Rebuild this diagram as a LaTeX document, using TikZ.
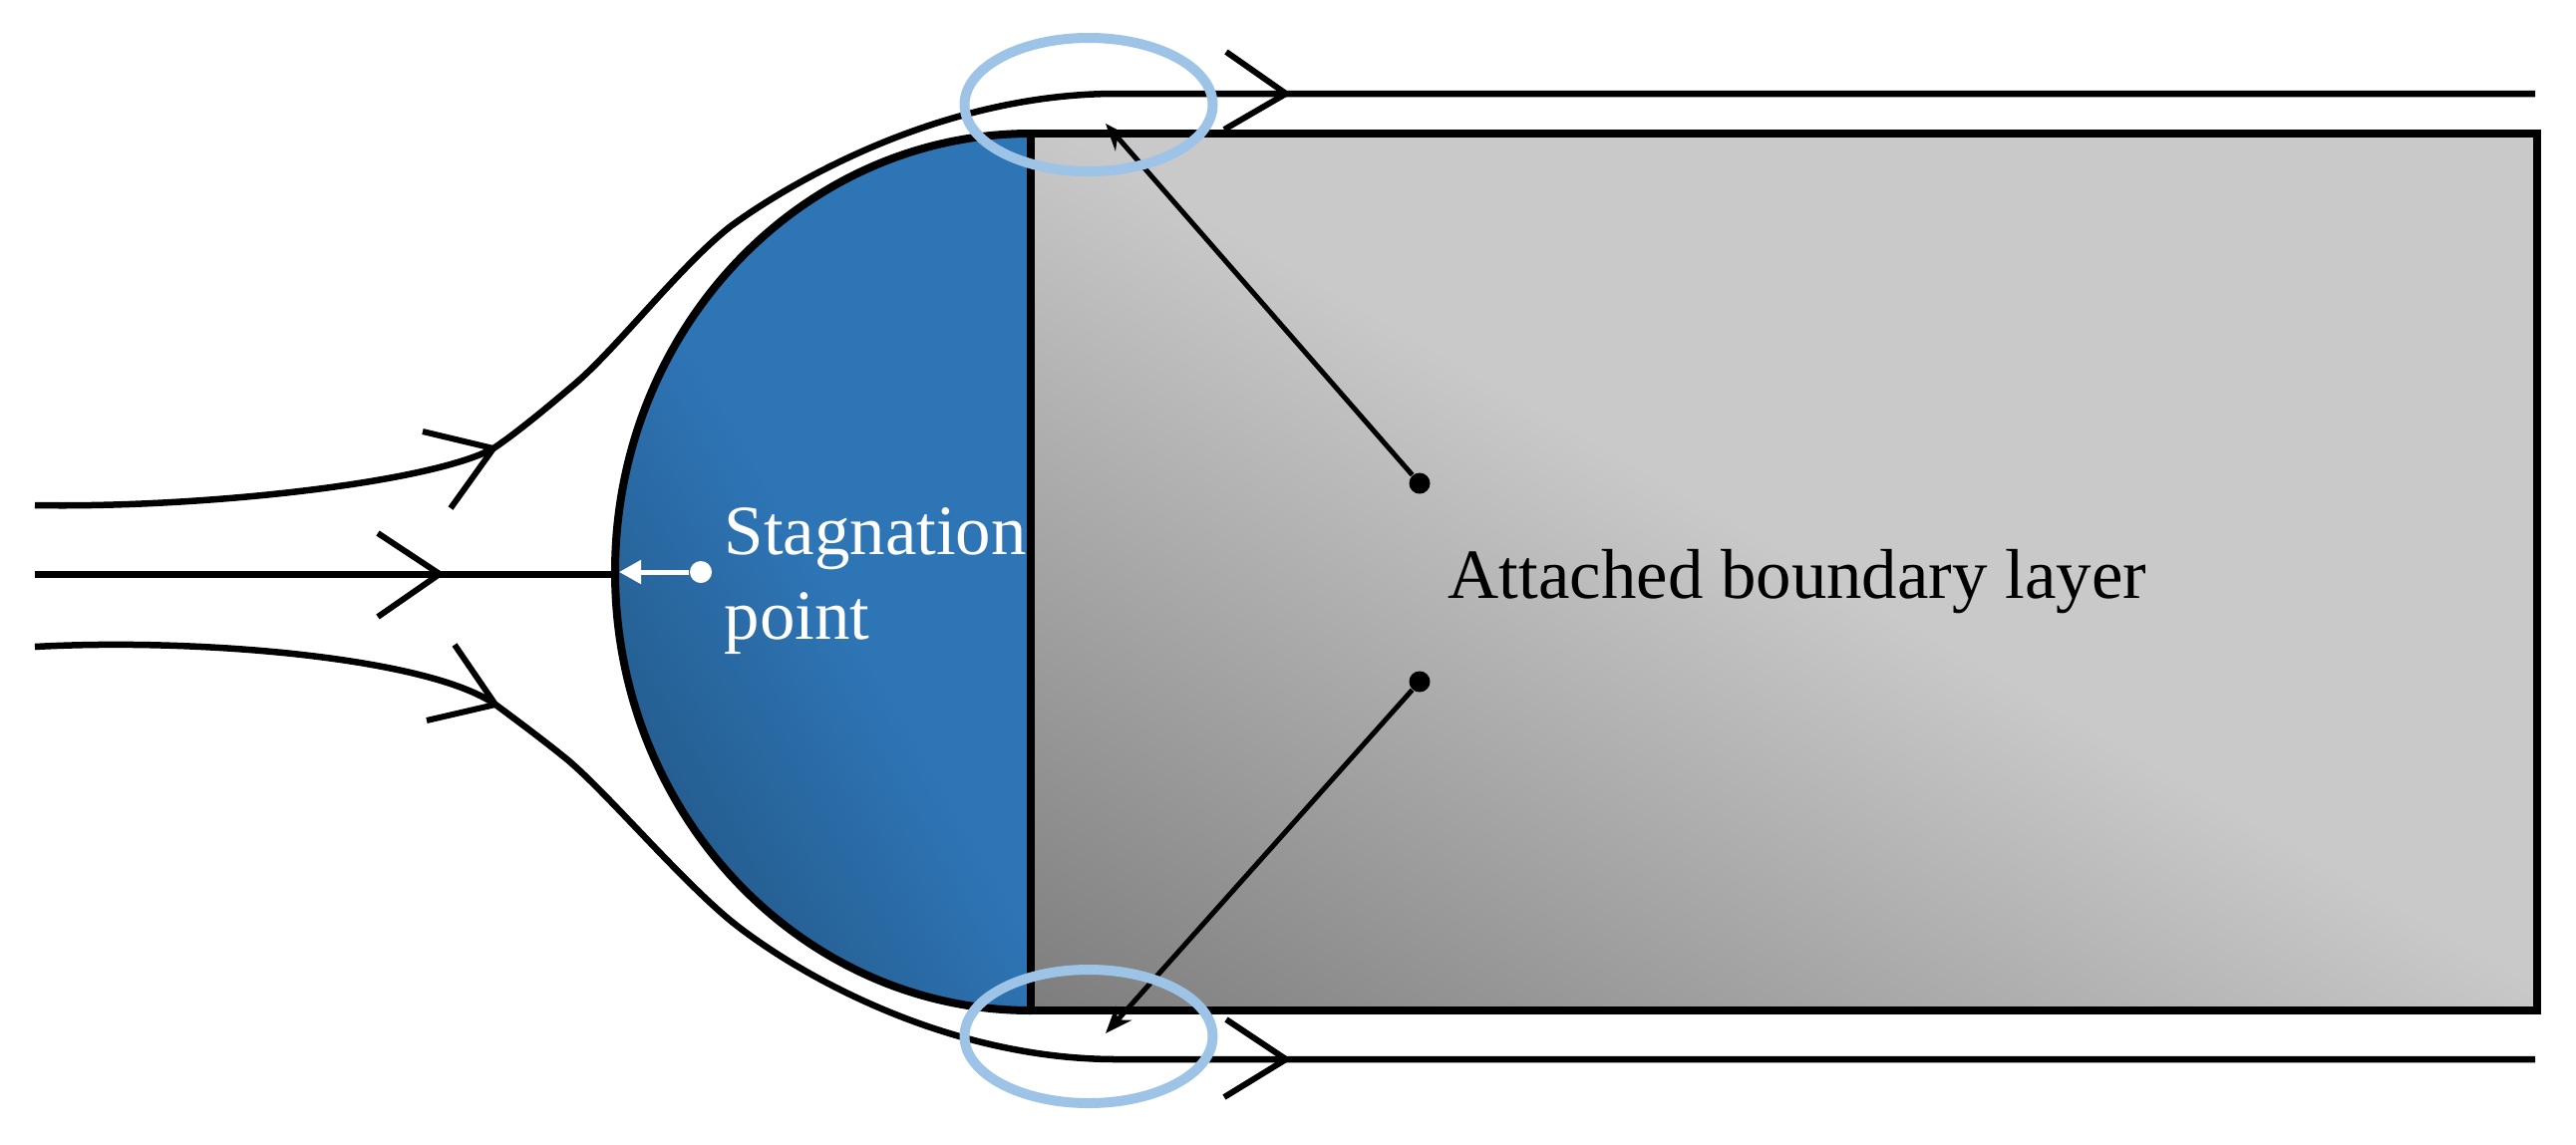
\documentclass[tikz,border=0pt]{standalone}
\usepackage{fontspec}
\setmainfont{Liberation Serif}
\usepackage{tikz}
\usetikzlibrary{arrows.meta,positioning,calc}
\definecolor{noseblue}{HTML}{2E75B6}
\definecolor{nosedark}{HTML}{183C5A}
\definecolor{ringblue}{HTML}{9DC3E6}
\definecolor{bodydark}{HTML}{747474}
\definecolor{bodylight}{HTML}{C9C9C9}

\begin{document}
\begin{tikzpicture}[x=0.01cm, y=-0.01cm, >={Stealth[length=0.27cm,width=0.21cm]}, font=\fontsize{20.15}{24.3}\selectfont]
	\tikzstyle{outline}=[draw=black,line width=0.08cm]
	\tikzstyle{flow}=[draw=black,line width=0.065cm]
	\tikzstyle{barb}=[draw=black,line width=0.06cm]
	\tikzstyle{ring}=[draw=ringblue,line width=0.1cm]
	\tikzstyle{leader}=[->,draw=black,line width=0.05cm]
	\tikzstyle{dot}=[circle,fill=black,inner sep=0pt,minimum size=0.21cm]
	\useasboundingbox (0,0) rectangle (2584,1148);
	% body
	\begin{scope}
		\clip (1034,134) rectangle (2545,1014);
		\shade[bottom color=bodydark,top color=bodylight,middle color=bodylight,shading angle=-30] (1034,-400) rectangle (2545,1500);
	\end{scope}
	\begin{scope}
		\clip (1034,1014) arc[start angle=90,end angle=270,x radius=417,y radius=440] -- cycle;
		\shade[bottom color=nosedark,top color=noseblue,middle color=noseblue,shading angle=-60] (220,-30) rectangle (1420,1170);
	\end{scope}
	\draw[outline] (1034,1014) arc[start angle=90,end angle=270,x radius=417,y radius=440];
	\draw[outline] (1034,134) rectangle (2545,1014);
	% streamlines
	\coordinate (cin) at (35,576);
	\coordinate (ctip) at (441,576);
	\coordinate (cend) at (617,576);
	\draw[flow,line width=0.07cm] (cin) -- (ctip) -- (cend);
	\draw[barb] (379,535) -- (ctip) -- (379,619);
	\coordinate (utip) at (495,450);
	\coordinate (uout) at (1290,94);
	\draw[flow] (35,507) .. controls (200,510) and (430,485) .. (utip)
		.. controls (520,433) and (550,408) .. (577,385)
		.. controls (620,348) and (683,266) .. (733,227)
		.. controls (800,178) and (950,94) .. (1120,94) -- (uout) -- (2543,94);
	\draw[barb] (424,433) -- (utip) -- (452,510);
	\draw[barb] (1230,52) -- (uout) -- (1228,130);
	\coordinate (ltip) at (497,707);
	\coordinate (lout) at (1290,1063);
	\draw[flow] (35,649) .. controls (200,640) and (430,660) .. (ltip)
		.. controls (520,724) and (548,745) .. (570,763)
		.. controls (610,797) and (680,880) .. (733,924)
		.. controls (800,978) and (950,1063) .. (1120,1063) -- (lout) -- (2543,1063);
	\draw[barb] (456,647) -- (ltip) -- (428,723);
	\draw[barb] (1230,1023) -- (lout) -- (1228,1101);
	% labels
	\node[dot] (updot) at (1424,485) {};
	\node[dot] (lowdot) at (1424,684) {};
	\coordinate (uptip) at (1109,124);
	\coordinate (lowtip) at (1109,1037);
	\draw[leader] (updot) -- (uptip);
	\draw[leader] (lowdot) -- (lowtip);
	\node[anchor=base west,inner sep=0pt] (attached) at (1452,600) {Attached boundary layer};
	\node[anchor=west,inner sep=0pt,align=left,text=white] (stagnation) at (726,583) {Stagnation\\point};
	\node[circle,fill=white,inner sep=0pt,minimum size=0.22cm] (stagdot) at (703,574) {};
	\coordinate (stagtip) at (621,574);
	\draw[-{Triangle[length=0.22cm,width=0.23cm]},white,line width=0.05cm] (stagdot) -- (stagtip);
	% rings
	\draw[ring] (1092,105) ellipse[x radius=124.5,y radius=67];
	\draw[ring] (1092,1040) ellipse[x radius=124.5,y radius=67];
\end{tikzpicture}
\end{document}
